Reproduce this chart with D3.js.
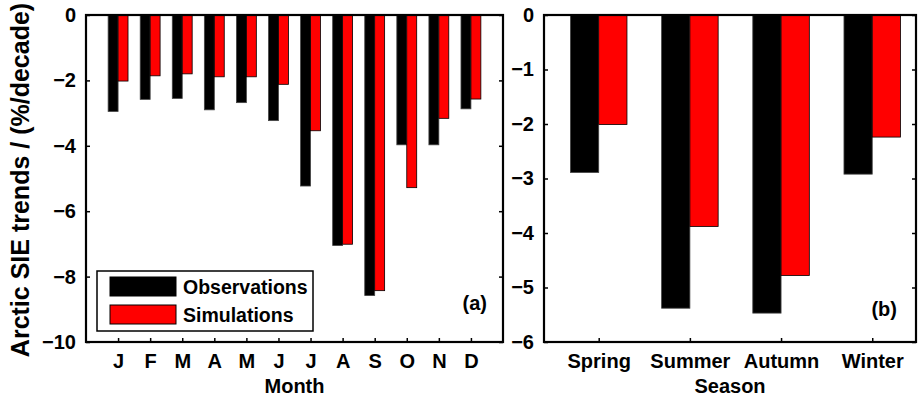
<!DOCTYPE html>
<html>
<head>
<meta charset="utf-8">
<script src="https://cdn.jsdelivr.net/npm/d3@7"></script>
<style>
  body { margin: 0; background: #fff; }
  svg { font-family: "Liberation Sans", Arial, sans-serif; font-weight: bold; }
</style>
</head>
<body>
<svg id="chart" width="921" height="399"></svg>
<script>
// monthly trends (%/decade)
const months = ["J", "F", "M", "A", "M", "J", "J", "A", "S", "O", "N", "D"];
const obsMonthly = [-2.95, -2.58, -2.55, -2.9, -2.68, -3.23, -5.23, -7.05, -8.58, -3.97, -3.97, -2.87];
const simMonthly = [-2.02, -1.86, -1.8, -1.89, -1.89, -2.12, -3.54, -7.01, -8.43, -5.28, -3.16, -2.57];
const monthTicks = [0, -2, -4, -6, -8, -10];

// seasonal trends
const seasons = ["Spring", "Summer", "Autumn", "Winter"];
const obsSeasonal = [-2.89, -5.38, -5.47, -2.92];
const simSeasonal = [-2.01, -3.88, -4.78, -2.24];
const seasonTicks = [0, -1, -2, -3, -4, -5, -6];

const seriesNames = ["Observations", "Simulations"];
const colors = ["#000000", "#ff0000"];

const svg = d3.select("#chart");
const plotTop = 15, plotBottom = 342;
const barW = 0.31;

function panel(cats, obs, sim, yTicks, xDomain, xRange, tag, tagPos, xTitle) {
  const x = d3.scaleLinear().domain(xDomain).range(xRange);
  const y = d3.scaleLinear().domain([0, d3.min(yTicks)]).range([plotTop, plotBottom]);
  const g = svg.append("g");

  // bars
  [obs, sim].forEach((vals, s) => {
    g.selectAll(null)
      .data(vals)
      .enter()
      .append("rect")
      .attr("x", (d, i) => x(i + 1 + (s === 0 ? -barW : 0)))
      .attr("y", y(0))
      .attr("width", x(barW) - x(0))
      .attr("height", d => y(d) - y(0))
      .attr("fill", colors[s])
      .attr("stroke", s === 0 ? "#444" : "#000")
      .attr("stroke-width", 0.8);
  });

  // y axis (ticks inward)
  const ya = g.append("g")
    .attr("transform", "translate(" + xRange[0] + ",0)")
    .call(d3.axisLeft(y).tickValues(yTicks).tickSize(-4).tickSizeOuter(0).tickPadding(10).tickFormat(d3.format("d")));
  ya.select(".domain").remove();
  ya.selectAll("text").style("font-size", "20px").style("font-weight", "bold").attr("fill", "#000");

  // mirrored ticks on the right
  const yr = g.append("g")
    .attr("transform", "translate(" + xRange[1] + ",0)")
    .call(d3.axisRight(y).tickValues(yTicks).tickSize(-4).tickSizeOuter(0).tickFormat(""));
  yr.select(".domain").remove();

  // x axis
  const xa = g.append("g")
    .attr("transform", "translate(0," + plotBottom + ")")
    .call(d3.axisBottom(x).tickValues(d3.range(1, cats.length + 1)).tickSize(-4).tickSizeOuter(0).tickPadding(12)
      .tickFormat(i => cats[i - 1]));
  xa.select(".domain").remove();
  xa.selectAll("text").style("font-size", "20px").style("font-weight", "bold").attr("fill", "#000");
  g.selectAll(".tick line").attr("stroke", "#000").attr("stroke-width", 1.5);

  // frame
  g.append("rect")
    .attr("x", xRange[0]).attr("y", plotTop)
    .attr("width", xRange[1] - xRange[0]).attr("height", plotBottom - plotTop)
    .attr("fill", "none").attr("stroke", "#000").attr("stroke-width", 2.2);

  g.append("text")
    .attr("x", (xRange[0] + xRange[1]) / 2)
    .attr("y", 393)
    .attr("text-anchor", "middle")
    .style("font-size", "20px")
    .text(xTitle);

  g.append("text")
    .attr("x", xRange[1] - tagPos[0])
    .attr("y", tagPos[1])
    .attr("text-anchor", "end")
    .style("font-size", "20px")
    .text(tag);
  return g;
}

panel(months, obsMonthly, simMonthly, monthTicks, [0, 13], [86, 503], "(a)", [16, 310], "Month");
panel(seasons, obsSeasonal, simSeasonal, seasonTicks, [0.4, 4.48], [544, 916], "(b)", [19, 316], "Season");

// legend
const lg = svg.append("g").attr("transform", "translate(97,271)");
lg.append("rect").attr("width", 216).attr("height", 60)
  .attr("fill", "#fff").attr("stroke", "#000").attr("stroke-width", 1.5);
seriesNames.forEach((name, i) => {
  lg.append("rect")
    .attr("x", 13).attr("y", 6 + i * 28)
    .attr("width", 66).attr("height", 19)
    .attr("fill", colors[i]).attr("stroke", "#000").attr("stroke-width", 1);
  lg.append("text")
    .attr("x", 86).attr("y", 23 + i * 28)
    .style("font-size", "19.5px")
    .text(name);
});

// y label
svg.append("text")
  .attr("transform", "translate(29,180) rotate(-90)")
  .attr("text-anchor", "middle")
  .style("font-size", "25px")
  .text("Arctic SIE trends / (%/decade)");
</script>
</body>
</html>
